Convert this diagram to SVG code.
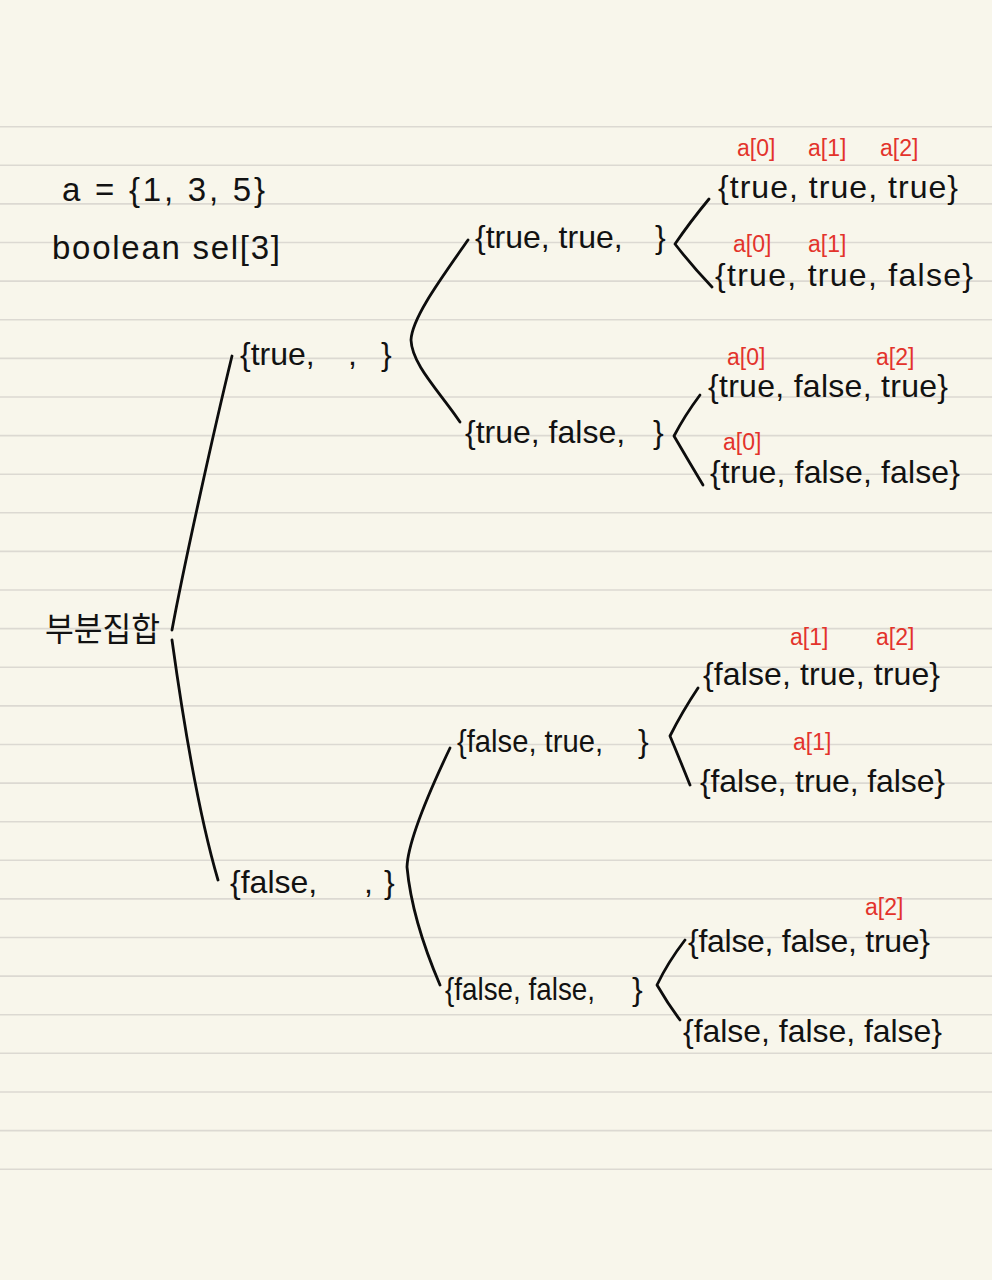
<svg xmlns="http://www.w3.org/2000/svg" width="992" height="1280" viewBox="0 0 992 1280">
<style>
.bg{fill:#f8f6eb}
.rule{stroke:#dcd9d2;stroke-width:1.6}
.t{font-family:"Liberation Sans","Noto Sans CJK KR",sans-serif;font-size:32px;fill:#121212}
.h{font-family:"Liberation Sans","Noto Sans CJK KR",sans-serif;font-size:33px;fill:#121212}
.r{font-family:"Liberation Sans",sans-serif;font-size:23px;fill:#e3332b}
.c{fill:none;stroke:#0d0d0d;stroke-width:2.8;stroke-linecap:round;stroke-linejoin:round}
</style>
<rect class="bg" x="0" y="0" width="992" height="1280"/>
<g id="paper-lines">
<line class="rule" x1="0" x2="992" y1="126.7" y2="126.7"/>
<line class="rule" x1="0" x2="992" y1="165.3" y2="165.3"/>
<line class="rule" x1="0" x2="992" y1="203.9" y2="203.9"/>
<line class="rule" x1="0" x2="992" y1="242.5" y2="242.5"/>
<line class="rule" x1="0" x2="992" y1="281.1" y2="281.1"/>
<line class="rule" x1="0" x2="992" y1="319.8" y2="319.8"/>
<line class="rule" x1="0" x2="992" y1="358.4" y2="358.4"/>
<line class="rule" x1="0" x2="992" y1="397.0" y2="397.0"/>
<line class="rule" x1="0" x2="992" y1="435.6" y2="435.6"/>
<line class="rule" x1="0" x2="992" y1="474.2" y2="474.2"/>
<line class="rule" x1="0" x2="992" y1="512.8" y2="512.8"/>
<line class="rule" x1="0" x2="992" y1="551.4" y2="551.4"/>
<line class="rule" x1="0" x2="992" y1="590.0" y2="590.0"/>
<line class="rule" x1="0" x2="992" y1="628.6" y2="628.6"/>
<line class="rule" x1="0" x2="992" y1="667.2" y2="667.2"/>
<line class="rule" x1="0" x2="992" y1="705.9" y2="705.9"/>
<line class="rule" x1="0" x2="992" y1="744.5" y2="744.5"/>
<line class="rule" x1="0" x2="992" y1="783.1" y2="783.1"/>
<line class="rule" x1="0" x2="992" y1="821.7" y2="821.7"/>
<line class="rule" x1="0" x2="992" y1="860.3" y2="860.3"/>
<line class="rule" x1="0" x2="992" y1="898.9" y2="898.9"/>
<line class="rule" x1="0" x2="992" y1="937.5" y2="937.5"/>
<line class="rule" x1="0" x2="992" y1="976.1" y2="976.1"/>
<line class="rule" x1="0" x2="992" y1="1014.7" y2="1014.7"/>
<line class="rule" x1="0" x2="992" y1="1053.3" y2="1053.3"/>
<line class="rule" x1="0" x2="992" y1="1092.0" y2="1092.0"/>
<line class="rule" x1="0" x2="992" y1="1130.6" y2="1130.6"/>
<line class="rule" x1="0" x2="992" y1="1169.2" y2="1169.2"/>
</g>
<g id="header">
<text class="h" x="62" y="201" textLength="203" lengthAdjust="spacing">a = {1, 3, 5}</text>
<text class="h" x="52" y="259" textLength="228" lengthAdjust="spacing">boolean sel[3]</text>
</g>
<g id="connectors">
<path class="c" d="M172,630 C184,565 214,430 232,356"/>
<path class="c" d="M172,640 C181,705 196,805 218,880"/>
<path class="c" d="M468,240 C440,280 412,318 411,340 C412,365 440,392 460,422"/>
<path class="c" d="M450,748 C430,790 408,840 407,867 C411,910 425,950 440,985"/>
<path class="c" d="M709,199 Q690,222 675,244 Q692,266 712,287"/>
<path class="c" d="M700,395 Q685,415 674,436 Q688,460 703,485"/>
<path class="c" d="M698,688 Q682,712 670,736 Q680,760 690,785"/>
<path class="c" d="M685,940 Q668,962 657,985 Q668,1004 680,1020"/>
</g>
<g id="node-root">
<text class="h" x="45" y="641" textLength="115" lengthAdjust="spacingAndGlyphs">부분집합</text>
</g>
<g id="node-t">
<text class="t" y="365"><tspan x="240">{true,</tspan><tspan x="348">,</tspan><tspan x="381">}</tspan></text>
</g>
<g id="node-f">
<text class="t" y="893"><tspan x="230">{false,</tspan><tspan x="364">,</tspan><tspan x="384">}</tspan></text>
</g>
<g id="node-tt">
<text class="t" y="248"><tspan x="475">{true, true,</tspan><tspan x="655">}</tspan></text>
</g>
<g id="node-tf">
<text class="t" y="443"><tspan x="465">{true, false,</tspan><tspan x="653">}</tspan></text>
</g>
<g id="node-ft">
<text class="t" y="752"><tspan x="457" textLength="146" lengthAdjust="spacingAndGlyphs">{false, true,</tspan><tspan x="638">}</tspan></text>
</g>
<g id="node-ff">
<text class="t" y="1000"><tspan x="445" textLength="150" lengthAdjust="spacingAndGlyphs">{false, false,</tspan><tspan x="632">}</tspan></text>
</g>
<g id="leaf-ttt">
<text class="r" y="156"><tspan x="737">a[0]</tspan><tspan x="808">a[1]</tspan><tspan x="880">a[2]</tspan></text>
<text class="t" x="718" y="198" textLength="240" lengthAdjust="spacing">{true, true, true}</text>
</g>
<g id="leaf-ttf">
<text class="r" y="252"><tspan x="733">a[0]</tspan><tspan x="808">a[1]</tspan></text>
<text class="t" x="715" y="286" textLength="258" lengthAdjust="spacing">{true, true, false}</text>
</g>
<g id="leaf-tft">
<text class="r" y="365"><tspan x="727">a[0]</tspan><tspan x="876">a[2]</tspan></text>
<text class="t" x="708" y="397" textLength="240" lengthAdjust="spacing">{true, false, true}</text>
</g>
<g id="leaf-tff">
<text class="r" y="450"><tspan x="723">a[0]</tspan></text>
<text class="t" x="710" y="483" textLength="250" lengthAdjust="spacing">{true, false, false}</text>
</g>
<g id="leaf-ftt">
<text class="r" y="645"><tspan x="790">a[1]</tspan><tspan x="876">a[2]</tspan></text>
<text class="t" x="703" y="685" textLength="237" lengthAdjust="spacing">{false, true, true}</text>
</g>
<g id="leaf-ftf">
<text class="r" y="750"><tspan x="793">a[1]</tspan></text>
<text class="t" x="700" y="792" textLength="245" lengthAdjust="spacing">{false, true, false}</text>
</g>
<g id="leaf-fft">
<text class="r" y="915"><tspan x="865">a[2]</tspan></text>
<text class="t" x="688" y="952" textLength="242" lengthAdjust="spacing">{false, false, true}</text>
</g>
<g id="leaf-fff">
<text class="t" x="683" y="1042" textLength="259" lengthAdjust="spacing">{false, false, false}</text>
</g>
</svg>
